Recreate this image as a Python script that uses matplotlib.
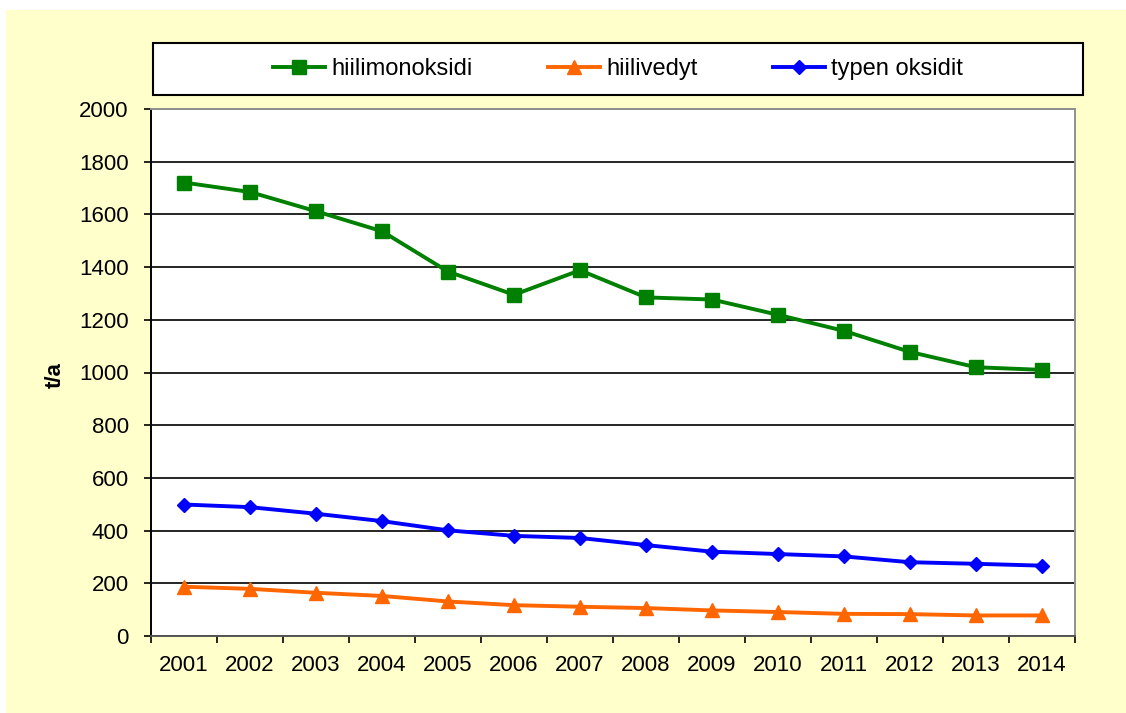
import numpy as np
import matplotlib
matplotlib.use('Agg')
import matplotlib.pyplot as plt
from matplotlib.patches import Rectangle

plt.rcParams['font.family'] = ['Liberation Sans', 'DejaVu Sans']

years = ['2001', '2002', '2003', '2004', '2005', '2006', '2007',
         '2008', '2009', '2010', '2011', '2012', '2013', '2014']
hiilimonoksidi = [1721, 1685, 1612, 1536, 1383, 1295, 1388,
                  1285, 1277, 1219, 1158, 1078, 1020, 1010]
hiilivedyt = [187, 179, 164, 152, 131, 117, 111,
              106, 97, 91, 84, 83, 78, 78]
typen_oksidit = [499, 489, 464, 436, 401, 380, 372,
                 345, 320, 311, 302, 280, 274, 267]
y_ticks = [0, 200, 400, 600, 800, 1000, 1200, 1400, 1600, 1800, 2000]

W, H = 1126, 713
fig = plt.figure(figsize=(W / 100, H / 100), dpi=100, facecolor='white')

# yellow chart area
fig.patches.append(Rectangle((6 / W, 0), 1, (H - 10) / H, transform=fig.transFigure,
                             facecolor='#FFFFCC', edgecolor='none', zorder=-5))

ax = fig.add_axes([151 / W, (H - 636) / H, (1075 - 151) / W, (636 - 109) / H])
ax.set_facecolor('white')

x = np.arange(len(years))
ax.plot(x, hiilimonoksidi, color='#008000', lw=2.8, marker='s', ms=9.5,
        label='hiilimonoksidi', zorder=3)
ax.plot(x, hiilivedyt, color='#FF6600', lw=2.8, marker='^', ms=10,
        label='hiilivedyt', zorder=3)
ax.plot(x, typen_oksidit, color='#0000FF', lw=2.8, marker='D', ms=7,
        label='typen oksidit', zorder=3)

fs = 16
ax.set_xlim(-0.5, len(years) - 0.5)
ax.set_ylim(0, 2000)
ax.set_yticks(y_ticks)
ax.set_yticklabels([str(v) for v in y_ticks], fontsize=fs)
ax.set_xticks(np.arange(len(years) + 1) - 0.5)
ax.set_xticklabels([])
ax.set_xticks(x, minor=True)
ax.set_xticklabels(years, minor=True, fontsize=fs)
ax.tick_params(axis='x', which='minor', length=0, pad=14)
ax.tick_params(axis='x', which='major', length=5, width=1.2, direction='out')
ax.tick_params(axis='y', length=5, width=1.2, direction='out', pad=11)

ax.set_axisbelow(True)
ax.yaxis.grid(True, color='black', lw=1.2)

ax.spines['left'].set_color('black')
ax.spines['left'].set_linewidth(1.4)
ax.spines['bottom'].set_color('#555555')
ax.spines['bottom'].set_linewidth(1.4)
for s in ['top', 'right']:
    ax.spines[s].set_color('#909090')
    ax.spines[s].set_linewidth(1.4)

fig.text(55 / W, (H - 375) / H, 't/a', rotation=90, fontsize=fs, fontweight='bold',
         ha='center', va='center')

# legend box across the top
fig.patches.append(Rectangle((153 / W, (H - 95) / H), 930 / W, 52 / H,
                             transform=fig.transFigure, facecolor='white',
                             edgecolor='black', lw=1.5, zorder=1))
leg = fig.legend(loc='center', bbox_to_anchor=(618 / W, (H - 69) / H), ncol=3,
                 frameon=False, fontsize=17, handlelength=2.2, handletextpad=0.25,
                 columnspacing=3.2)
leg.set_zorder(2)

fig.savefig('out.png', dpi=100, facecolor=fig.get_facecolor())
